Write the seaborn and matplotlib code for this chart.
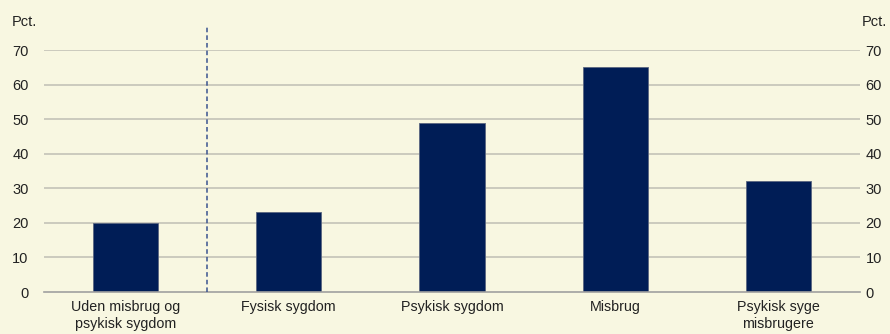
import pandas as pd
import seaborn as sns
import matplotlib.pyplot as plt
import numpy as np

# Data
categories = ['Uden misbrug og\npsykisk sygdom', 'Fysisk sygdom', 'Psykisk sygdom',
              'Misbrug', 'Psykisk syge\nmisbrugere']
values = [20, 23, 49, 65, 32]
yticks = [0, 10, 20, 30, 40, 50, 60, 70]

bg = '#F8F7E1'
bar_color = '#001D56'
grid_color = '#C4C3B8'
text_color = '#222222'

sns.set_theme(style='white')
plt.rcParams['font.family'] = ['Liberation Sans', 'DejaVu Sans']

df = pd.DataFrame({'kategori': categories, 'pct': values})

fig = plt.figure(figsize=(8.9, 3.34), dpi=100)
fig.patch.set_facecolor(bg)
ax = fig.add_axes([44 / 890, 1 - 292 / 334, (860 - 44) / 890, (292 - 50) / 334])
ax.set_facecolor(bg)

sns.barplot(data=df, x='kategori', y='pct', color=bar_color, width=0.4,
            saturation=1, ax=ax, zorder=3, edgecolor='#5A6680', linewidth=0.6)

ax.set_ylim(0, 70)
ax.set_xlim(-0.5, len(categories) - 0.5)
ax.set_yticks(yticks)
ax.set_xlabel('')
ax.set_ylabel('')
for y in yticks[1:]:
    ax.axhline(y, color=grid_color, lw=1.2, zorder=1)

for s in ['top', 'left', 'right']:
    ax.spines[s].set_visible(False)
ax.spines['bottom'].set_color('#A0A0A0')
ax.spines['bottom'].set_linewidth(1.2)
ax.spines['bottom'].set_zorder(4)

ax.tick_params(axis='x', which='major', length=0, pad=6, labelsize=10.3, labelcolor=text_color)
ax.set_xticks(np.arange(-0.5, len(categories)), minor=True)
ax.tick_params(axis='x', which='minor', length=4, width=1, color='#A0A0A0', direction='out')
ax.tick_params(axis='y', length=0, pad=11, labelsize=10.5, labelcolor=text_color)

# separator between reference group and the rest
ax.plot([0.5, 0.5], [0, 76.7], ls=(0, (3, 2)), color='#3A5390', lw=1.1,
        clip_on=False, zorder=5)

ax2 = ax.twinx()
ax2.set_ylim(0, 70)
ax2.set_yticks(yticks)
for s in ['top', 'left', 'right', 'bottom']:
    ax2.spines[s].set_visible(False)
ax2.tick_params(axis='y', length=0, pad=4, labelsize=10.5, labelcolor=text_color)

fig.text(12 / 890, 1 - 22 / 334, 'Pct.', fontsize=10.5, color=text_color, va='center', ha='left')
fig.text(862 / 890, 1 - 22 / 334, 'Pct.', fontsize=10.5, color=text_color, va='center', ha='left')

fig.savefig('out.png', dpi=100, facecolor=bg)
